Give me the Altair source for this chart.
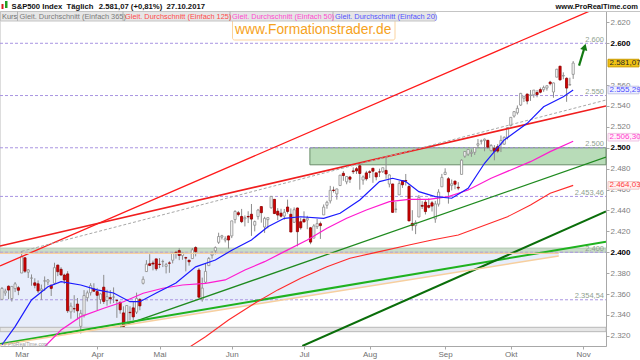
import altair as alt
import pandas as pd

# ---------------- price data (daily candles, 21.02.2017 - 27.10.2017) ----------------
FIRST_IDX = -6  # index of first candle; 0 = 01.03.2017 (trading-day axis)
open_ = [2354.91, 2361.11, 2367.50, 2355.73, 2365.23, 2366.08,
         2380.13, 2394.75, 2380.92, 2375.23, 2370.74, 2369.81, 2363.49, 2372.52, 2371.56, 2368.55, 2370.34, 2387.71, 2383.71, 2378.24, 2379.32, 2343.00, 2345.97, 2350.42, 2329.11, 2339.79, 2356.54, 2361.31, 2364.82,
         2362.34, 2354.76, 2366.59, 2353.79, 2356.59, 2357.16, 2353.92, 2352.15, 2341.98, 2332.62, 2342.53, 2346.79, 2342.69, 2354.74, 2370.33, 2381.51, 2388.98, 2389.70, 2393.68,
         2388.50, 2391.05, 2386.50, 2389.79, 2392.37, 2399.94, 2401.58, 2396.79, 2394.84, 2392.44, 2393.98, 2404.55, 2382.95, 2354.69, 2371.37, 2387.21, 2397.04, 2401.41, 2409.54, 2414.50, 2411.67, 2415.63,
         2415.65, 2431.28, 2437.83, 2434.27, 2432.03, 2434.27, 2436.39, 2425.88, 2434.15, 2443.75, 2424.14, 2431.24, 2442.55, 2450.66, 2439.31, 2437.40, 2434.65, 2443.32, 2436.34, 2428.70, 2442.38, 2429.20,
         2431.39, 2430.78, 2423.44, 2413.52, 2424.51, 2427.35, 2435.75, 2444.99, 2449.16, 2459.50, 2455.88, 2463.85, 2475.56, 2467.40, 2472.04, 2477.88, 2479.97, 2482.76, 2469.12, 2475.94,
         2477.10, 2480.38, 2476.03, 2476.88, 2477.14, 2478.35, 2465.35, 2465.38, 2441.04, 2454.96, 2468.66, 2468.63, 2462.95, 2427.64, 2425.50, 2433.75, 2444.88, 2447.91, 2444.72, 2447.35, 2431.94, 2446.06, 2462.65,
         2474.42, 2470.35, 2463.83, 2468.06, 2462.25, 2474.52, 2491.94, 2493.89, 2494.56, 2495.67, 2502.51, 2506.29, 2506.84, 2507.16, 2497.26, 2499.39, 2501.04, 2503.30, 2503.41, 2509.96,
         2521.20, 2530.34, 2533.48, 2540.86, 2547.44, 2551.39, 2549.99, 2550.62, 2552.88, 2555.66, 2555.57, 2557.17, 2562.87, 2553.39, 2567.56, 2578.08, 2568.66, 2566.52, 2560.08, 2570.26]
high_ = [2366.71, 2365.13, 2368.26, 2367.34, 2371.54, 2367.79,
         2400.98, 2394.75, 2383.89, 2378.80, 2375.12, 2373.09, 2369.08, 2376.86, 2374.42, 2368.55, 2390.01, 2388.10, 2385.71, 2379.55, 2381.93, 2351.81, 2358.92, 2356.22, 2344.90, 2363.78, 2363.36, 2370.42, 2370.35,
         2365.87, 2360.53, 2378.36, 2364.16, 2363.76, 2366.37, 2355.22, 2352.72, 2348.26, 2349.14, 2348.35, 2352.63, 2361.37, 2356.18, 2376.98, 2392.48, 2398.16, 2392.10, 2393.68,
         2394.49, 2392.93, 2389.82, 2391.43, 2399.29, 2401.36, 2403.87, 2399.74, 2395.72, 2392.44, 2404.05, 2405.77, 2384.87, 2375.74, 2389.06, 2395.46, 2400.85, 2405.58, 2418.71, 2416.68, 2415.26, 2415.99,
         2430.06, 2440.23, 2439.55, 2441.49, 2435.28, 2439.27, 2446.20, 2430.38, 2441.49, 2443.75, 2433.95, 2433.15, 2453.82, 2450.66, 2442.23, 2441.62, 2441.40, 2450.42, 2441.99, 2442.97, 2442.73, 2432.71,
         2439.17, 2434.90, 2424.28, 2426.92, 2432.00, 2429.30, 2445.76, 2449.32, 2463.54, 2462.82, 2460.92, 2473.83, 2477.62, 2472.54, 2473.10, 2481.24, 2481.69, 2484.04, 2473.53, 2477.96,
         2478.51, 2480.38, 2476.03, 2480.00, 2480.95, 2490.87, 2474.41, 2465.38, 2448.09, 2468.22, 2468.90, 2474.93, 2465.02, 2440.27, 2430.58, 2454.77, 2448.91, 2450.38, 2451.66, 2449.12, 2449.19, 2460.31, 2475.01,
         2480.38, 2471.97, 2469.64, 2468.62, 2467.11, 2488.95, 2496.77, 2498.37, 2498.43, 2500.23, 2508.32, 2507.84, 2508.85, 2507.16, 2503.47, 2502.54, 2503.51, 2511.75, 2510.81, 2519.44,
         2529.23, 2535.13, 2540.53, 2552.51, 2549.41, 2551.82, 2555.23, 2555.24, 2555.33, 2557.65, 2559.47, 2559.71, 2564.11, 2562.36, 2575.44, 2578.29, 2572.18, 2567.40, 2567.07, 2582.98]
low_ = [2354.91, 2358.34, 2355.09, 2352.87, 2361.87, 2358.96,
        2380.13, 2380.17, 2375.39, 2367.98, 2365.51, 2361.01, 2354.54, 2363.04, 2368.52, 2358.18, 2368.94, 2377.18, 2377.64, 2369.66, 2341.90, 2336.45, 2342.13, 2335.74, 2322.25, 2337.63, 2352.94, 2358.58, 2362.60,
        2344.73, 2350.72, 2350.52, 2348.90, 2350.74, 2351.50, 2337.25, 2341.18, 2328.95, 2332.51, 2334.54, 2335.05, 2340.91, 2344.51, 2369.19, 2381.15, 2386.78, 2382.68, 2382.36,
        2384.83, 2385.82, 2379.75, 2380.35, 2389.38, 2393.92, 2392.44, 2392.79, 2381.74, 2387.19, 2393.94, 2396.05, 2356.21, 2352.72, 2370.43, 2386.92, 2393.88, 2397.99, 2408.01, 2412.20, 2409.43, 2403.59,
        2413.54, 2427.71, 2434.32, 2427.95, 2424.75, 2427.94, 2415.70, 2419.97, 2431.28, 2428.34, 2418.53, 2422.88, 2441.79, 2436.60, 2430.74, 2433.27, 2431.11, 2437.03, 2419.38, 2428.02, 2405.70, 2421.65,
        2428.69, 2422.05, 2407.70, 2413.52, 2422.27, 2412.79, 2435.75, 2441.69, 2446.69, 2457.16, 2450.34, 2463.85, 2468.43, 2465.06, 2466.32, 2474.91, 2474.94, 2459.93, 2464.66, 2468.53,
        2471.14, 2466.48, 2468.85, 2472.08, 2475.88, 2470.32, 2462.08, 2437.75, 2437.85, 2454.96, 2461.61, 2463.86, 2430.01, 2420.69, 2417.35, 2433.67, 2441.42, 2436.19, 2441.90, 2439.03, 2428.20, 2443.77, 2462.65,
        2473.85, 2446.55, 2459.20, 2460.29, 2459.40, 2474.52, 2490.37, 2492.14, 2491.35, 2493.16, 2499.92, 2503.19, 2496.67, 2499.00, 2496.54, 2488.03, 2495.12, 2495.91, 2502.93, 2507.99,
        2520.40, 2528.85, 2531.80, 2540.02, 2543.79, 2541.60, 2544.86, 2547.95, 2548.31, 2552.09, 2553.59, 2554.69, 2559.67, 2547.92, 2567.56, 2564.33, 2565.58, 2544.00, 2559.80, 2565.94]
close_ = [2365.38, 2362.82, 2363.81, 2367.34, 2369.75, 2363.64,
          2395.96, 2381.92, 2383.12, 2375.31, 2368.39, 2362.98, 2364.87, 2372.60, 2373.47, 2365.45, 2385.26, 2381.38, 2378.25, 2373.47, 2344.02, 2348.45, 2345.96, 2343.98, 2341.59, 2358.57, 2361.13, 2368.06, 2362.72,
          2358.84, 2360.16, 2352.95, 2357.49, 2355.54, 2357.16, 2353.78, 2344.93, 2328.95, 2349.01, 2342.19, 2338.17, 2355.84, 2348.69, 2374.15, 2388.61, 2387.45, 2388.77, 2384.20,
          2388.33, 2391.17, 2388.13, 2389.52, 2399.29, 2399.38, 2396.92, 2399.63, 2394.44, 2390.90, 2402.32, 2400.67, 2357.03, 2365.72, 2381.73, 2394.02, 2398.42, 2404.39, 2415.07, 2415.82, 2412.91, 2411.80,
          2430.06, 2439.07, 2436.10, 2429.33, 2433.14, 2433.79, 2431.77, 2429.39, 2440.35, 2437.92, 2432.46, 2433.15, 2453.46, 2437.03, 2435.61, 2434.50, 2438.30, 2439.07, 2419.38, 2440.69, 2419.70, 2423.41,
          2429.01, 2432.54, 2409.75, 2425.18, 2427.43, 2425.53, 2443.25, 2447.83, 2459.27, 2459.14, 2460.61, 2473.83, 2473.45, 2472.54, 2469.91, 2477.13, 2477.83, 2475.42, 2472.10, 2470.30,
          2476.35, 2477.57, 2472.16, 2476.83, 2480.91, 2474.92, 2474.02, 2438.21, 2441.32, 2465.84, 2464.61, 2468.11, 2430.01, 2425.55, 2428.37, 2452.51, 2444.04, 2438.97, 2443.05, 2444.24, 2446.30, 2457.59, 2471.65,
          2476.55, 2457.85, 2465.54, 2465.10, 2461.43, 2488.11, 2496.48, 2498.37, 2495.62, 2500.23, 2503.87, 2506.65, 2508.24, 2500.60, 2502.22, 2496.66, 2496.84, 2507.04, 2510.06, 2519.36,
          2529.12, 2534.58, 2537.74, 2552.07, 2549.33, 2544.73, 2550.64, 2555.24, 2550.93, 2553.17, 2557.64, 2559.36, 2561.26, 2562.10, 2575.21, 2564.98, 2569.13, 2557.15, 2560.40, 2581.07]

# month ticks (trading-day index of first trading day of month)
month_idx = [0, 23, 42, 64, 86, 106, 129, 149, 171]
month_lab = ["Mar", "Apr", "Mai", "Jun", "Jul", "Aug", "Sep", "Okt", "Nov"]

# price axis ticks (2.580 sits under the last-price tag)
y_ticks = [2320, 2340, 2360, 2380, 2400, 2420, 2440, 2460, 2480, 2500, 2520, 2540, 2560, 2600, 2620]

# moving averages
ma20_i = [-6, -2, 3, 8, 12, 18, 23, 28, 33, 36, 41, 47, 53, 59, 64, 70, 75, 80, 85, 92, 97, 103, 109, 113, 117, 121, 126, 131, 136, 141, 147, 154, 159, 165, 168]
ma20_v = [2311.5, 2328.8, 2354.4, 2367.0, 2371.9, 2368.7, 2364.0, 2361.0, 2352.7, 2352.7, 2361.0, 2370.6, 2386.0, 2392.6, 2402.0, 2411.8, 2424.5, 2432.5, 2434.0, 2432.5, 2437.3, 2450.0, 2467.6, 2470.8, 2467.6, 2458.0, 2453.2, 2451.7, 2461.2, 2485.2, 2507.5, 2523.4, 2539.3, 2548.9, 2555.29]
ma50_i = [7, 12, 18, 25, 31, 37, 43, 49, 56, 62, 68, 74, 80, 87, 93, 99, 105, 112, 118, 124, 130, 136, 143, 149, 155, 161, 168]
ma50_v = [2309.7, 2325.6, 2338.4, 2346.4, 2352.7, 2360.8, 2365.6, 2368.7, 2370.3, 2373.5, 2383.0, 2391.0, 2400.6, 2411.8, 2423.0, 2432.5, 2440.5, 2448.4, 2450.7, 2450.7, 2453.2, 2459.6, 2470.8, 2478.8, 2486.7, 2496.3, 2506.3]
ma125_i = [51, 56, 63, 71, 78, 85, 93, 100, 109, 118, 125, 133, 140, 148, 155, 161, 168]
ma125_v = [2309.0, 2319.2, 2335.2, 2351.2, 2364.0, 2375.1, 2386.2, 2394.3, 2400.6, 2407.0, 2411.8, 2416.6, 2424.6, 2434.0, 2445.3, 2456.5, 2464.03]

# horizontal dashed levels
level_v = [2600, 2550, 2500, 2453.46, 2400, 2354.54]
level_lab = ["2.600", "2.550", "2.500", "2.453,46", "2.400", "2.354,54"]

# drawn trend lines: start/end (index, price)
trend_name = ["upper_red", "lower_red", "gray_dash", "mid_green", "bright_green", "dark_green", "tan_slope", "tan_flat"]
trend_i0 = [-6.6, -6.6, 0.0, 30.0, -6.6, 85.5, -6.6, -6.6]
trend_v0 = [2386.9, 2406.0, 2400.9, 2328.8, 2312.3, 2310.3, 2311.3, 2399.0]
trend_i1 = [178.0, 178.0, 178.0, 178.0, 178.0, 178.0, 163.6, 163.6]
trend_v1 = [2637.6, 2540.0, 2545.7, 2491.0, 2410.0, 2439.0, 2396.5, 2399.0]

# zones (index range, price range)
zone_i0 = [-6.6, -6.6, 87.8]
zone_i1 = [178.0, 178.0, 178.0]
zone_v0 = [2400.0, 2324.0, 2483.7]
zone_v1 = [2404.0, 2328.2, 2500.0]

# fill triangle
tri_i = [-6.6, 163.6]
tri_top = [2399.0, 2399.0]
tri_bot = [2311.3, 2396.5]

# price tags on the right
tag_v = [2581.07, 2555.29, 2506.30, 2464.03]
tag_lab = ["2.581,07", "2.555,29", "2.506,30", "2.464,03"]

# arrow (index, price)
arrow_i = [169.8, 171.5]
arrow_v = [2578.6, 2596.5]

# ---------------- styling ----------------
W, H = 606, 335
XD = [-6.6, 178.0]
YD = [2310.3, 2630.9]
FONT = "Liberation Sans"
PX_PER_PT = H / (YD[1] - YD[0])

xs = alt.Scale(domain=XD, nice=False, zero=False)
ys = alt.Scale(domain=YD, nice=False, zero=False)

lab_expr = ("[" + ",".join("'%s'" % m for m in month_lab) + "][indexof(["
            + ",".join(str(v) for v in month_idx) + "], datum.value)]")

x_axis = alt.Axis(values=month_idx, labelExpr=lab_expr, title=None, grid=False,
                  domainColor="#a8a8a8", tickColor="#a8a8a8", tickSize=3,
                  labelColor="#707070", labelFontSize=8, labelPadding=1, labelFont=FONT,
                  labelOverlap=False)
y_axis = alt.Axis(orient="right", values=y_ticks,
                  labelExpr="replace(format(datum.value, ',d'), ',', '.')",
                  title=None, grid=False, domainColor="#a8a8a8", tickColor="#a8a8a8",
                  tickSize=3, labelFontSize=8, labelPadding=1, labelFont=FONT,
                  labelOverlap=False,
                  labelColor={"condition": {"test": "datum.value % 100 === 0", "value": "#000000"}, "value": "#808080"},
                  labelFontWeight={"condition": {"test": "datum.value % 100 === 0", "value": "bold"}, "value": "normal"})


def X(f):
    return alt.X(f, scale=xs, axis=x_axis)


def Y(f):
    return alt.Y(f, scale=ys, axis=y_axis)


layers = []

# fill triangle
tri_df = pd.DataFrame({"i": tri_i, "top": tri_top, "bot": tri_bot})
layers.append(alt.Chart(tri_df).mark_area(color="#e7edfb").encode(
    x=X("i:Q"), y=Y("top:Q"), y2=alt.Y2("bot:Q")))

# zones
zone_fill = ["#c9dcc9", "#e6e6e6", "#b8dcb8"]
zone_stroke = ["#b4c8b4", "#b8b8b8", "#6a8c6a"]
zone_df = pd.DataFrame({"i0": zone_i0, "i1": zone_i1, "v0": zone_v0, "v1": zone_v1,
                        "f": zone_fill, "s": zone_stroke})
layers.append(alt.Chart(zone_df).mark_rect(strokeWidth=1).encode(
    x=X("i0:Q"), x2=alt.X2("i1:Q"), y=Y("v0:Q"), y2=alt.Y2("v1:Q"),
    fill=alt.Fill("f:N", scale=None), stroke=alt.Stroke("s:N", scale=None)))

# dashed levels
lev_df = pd.DataFrame({"v": level_v, "lab": level_lab})
layers.append(alt.Chart(lev_df).mark_rule(strokeDash=[3, 2], color="#a995e2", strokeWidth=1).encode(
    y=Y("v:Q"), x=alt.value(0), x2=alt.value(W)))
layers.append(alt.Chart(lev_df).mark_text(align="right", baseline="alphabetic", dy=-1.5,
                                          fontSize=7.5, font=FONT, color="#8f9f8f").encode(
    x=alt.value(604), y=Y("v:Q"), text="lab:N"))

# candles
n = len(close_)
candles = pd.DataFrame({"i": list(range(FIRST_IDX, FIRST_IDX + n)),
                        "o": open_, "h": high_, "l": low_, "c": close_})
layers.append(alt.Chart(candles).mark_rule(color="#8c8c8c", strokeWidth=1).encode(
    x=X("i:Q"), y=Y("l:Q"), y2=alt.Y2("h:Q")))
up = "datum.c >= datum.o"
layers.append(alt.Chart(candles).transform_calculate(
    x0="datum.i - 0.33", x1="datum.i + 0.33").mark_rect(strokeWidth=0.8).encode(
    x=X("x0:Q"), x2=alt.X2("x1:Q"), y=Y("o:Q"), y2=alt.Y2("c:Q"),
    fill=alt.condition(up, alt.value("#ffffff"), alt.value("#d40000")),
    stroke=alt.condition(up, alt.value("#8c8c8c"), alt.value("#8b0000"))))

# trend lines
trend_style = {
    "upper_red": ("#ff1a1a", 1.3, None),
    "lower_red": ("#f01e1e", 1.7, None),
    "gray_dash": ("#a8a8a8", 1.0, [3, 2]),
    "mid_green": ("#1f8a1f", 1.3, None),
    "bright_green": ("#1fb21f", 2.0, None),
    "dark_green": ("#0a6e0a", 2.0, None),
    "tan_slope": ("#f7cf9e", 1.5, None),
    "tan_flat": ("#f7cf9e", 1.3, None),
}
for k, name in enumerate(trend_name):
    d = pd.DataFrame({"i": [trend_i0[k], trend_i1[k]], "v": [trend_v0[k], trend_v1[k]]})
    col, wid, dash = trend_style[name]
    kw = dict(color=col, strokeWidth=wid, clip=True)
    if dash:
        kw["strokeDash"] = dash
    layers.append(alt.Chart(d).mark_line(**kw).encode(x=X("i:Q"), y=Y("v:Q")))

# moving averages
for ii, vv, col, wid in [(ma125_i, ma125_v, "#ff2a2a", 1.1),
                         (ma50_i, ma50_v, "#ff1ad0", 1.2),
                         (ma20_i, ma20_v, "#1a1aff", 1.2)]:
    d = pd.DataFrame({"i": ii, "v": vv})
    layers.append(alt.Chart(d).mark_line(color=col, strokeWidth=wid, clip=True).encode(
        x=X("i:Q"), y=Y("v:Q")))

# arrow
arr_df = pd.DataFrame({"i": arrow_i, "v": arrow_v})
layers.append(alt.Chart(arr_df).mark_line(color="#137a13", strokeWidth=2.2).encode(
    x=X("i:Q"), y=Y("v:Q")))
layers.append(alt.Chart(arr_df.tail(1)).mark_point(shape="triangle-up", filled=True, size=55,
                                                   angle=17, color="#137a13", opacity=1).encode(
    x=X("i:Q"), y=Y("v:Q")))

# right-side price tags (the 50-day tag is nudged up 4 px, as in the platform)
tag_shift_px = [0, 0, 4, 0]
tag_df = pd.DataFrame({"v": tag_v, "lab": tag_lab,
                       "sh": [s / PX_PER_PT for s in tag_shift_px],
                       "f": ["#f2c414", "#eef0ff", "#fff0fb", "#fff0f0"],
                       "s": ["#c99a00", "#c4c4e4", "#f0c4e4", "#f0c4c4"],
                       "t": ["#2a2a2a", "#4a4aff", "#ff3ccc", "#ff3c3c"]})
half = 3.8 / PX_PER_PT
tags = alt.Chart(tag_df).transform_calculate(
    vp="datum.v + datum.sh",
    y0="datum.v + datum.sh - %f" % half,
    y1="datum.v + datum.sh + %f" % half)
layers.append(tags.mark_rect(strokeWidth=1).encode(
    x=alt.value(608), x2=alt.value(639), y=Y("y0:Q"), y2=alt.Y2("y1:Q"),
    fill=alt.Fill("f:N", scale=None), stroke=alt.Stroke("s:N", scale=None)))
layers.append(tags.mark_text(align="left", baseline="middle", fontSize=8, font=FONT).encode(
    x=alt.value(609.5), y=Y("vp:Q"), text="lab:N", color=alt.Color("t:N", scale=None)))

# tiny copyright
layers.append(alt.Chart(pd.DataFrame({"t": ["© ProRealTime.com"]})).mark_text(
    align="left", baseline="middle", fontSize=5, font=FONT, color="#9a9a9a").encode(
    x=alt.value(3), y=alt.value(333), text="t:N"))

# watermark box + text
layers.append(alt.Chart(pd.DataFrame({"a": [1]})).mark_rect(
    fill="#ffffff", stroke="#fbd3a0", strokeWidth=1, cornerRadius=2).encode(
    x=alt.value(232.5), x2=alt.value(395), y=alt.value(7.5), y2=alt.value(29)))
layers.append(alt.Chart(pd.DataFrame({"t": ["www.Formationstrader.de"]})).mark_text(
    align="left", baseline="alphabetic", fontSize=13.8, font=FONT, color="#f6a21c").encode(
    x=alt.value(235), y=alt.value(23), text="t:N"))

# header line + legend strip
layers.append(alt.Chart(pd.DataFrame({"a": [1]})).mark_rule(color="#c4c4c4", strokeWidth=1).encode(
    x=alt.value(0), x2=alt.value(640), y=alt.value(0.5)))
layers.append(alt.Chart(pd.DataFrame({"a": [1]})).mark_rect(
    fill="#e6e6e6", stroke="#c4c4c4", strokeWidth=1).encode(
    x=alt.value(0.5), x2=alt.value(435), y=alt.value(0.5), y2=alt.value(10)))
sep_df = pd.DataFrame({"x": [17.5, 123, 230, 333]})
layers.append(alt.Chart(sep_df).mark_rule(color="#b4b4b4", strokeWidth=1).encode(
    x=alt.X("x:Q", scale=None, axis=None), y=alt.value(0.5), y2=alt.value(10)))

leg_text = ["Kurs", "Gleit. Durchschnitt (Einfach 365)", "Gleit. Durchschnitt (Einfach 125)",
            "Gleit. Durchschnitt (Einfach 50)", "Gleit. Durchschnitt (Einfach 20)"]
leg_df = pd.DataFrame({"t": leg_text, "x": [2, 19.5, 125, 232, 335],
                       "c": ["#707070", "#7a7a7a", "#ff4a4a", "#ff4ad0", "#5252ff"]})
layers.append(alt.Chart(leg_df).mark_text(align="left", baseline="alphabetic", fontSize=7.4, font=FONT).encode(
    x=alt.X("x:Q", scale=None, axis=None), y=alt.value(8.3), text="t:N",
    color=alt.Color("c:N", scale=None)))

# title row
title_df = pd.DataFrame({"t": ["S&P500 Index", "Täglich", "2.581,07 (+0,81%)", "27.10.2017"],
                         "x": [11.5, 66.5, 98.8, 166.5]})
layers.append(alt.Chart(title_df).mark_text(align="left", baseline="alphabetic", fontSize=7.7,
                                            fontWeight="bold", font=FONT, color="#111111").encode(
    x=alt.X("x:Q", scale=None, axis=None), y=alt.value(-2.3), text="t:N"))
layers.append(alt.Chart(pd.DataFrame({"t": ["www.ProRealTime.com"]})).mark_text(
    align="right", baseline="alphabetic", fontSize=7.5, fontWeight="bold", font=FONT, color="#111111").encode(
    x=alt.value(638), y=alt.value(-2.3), text="t:N"))
icon_df = pd.DataFrame({"x0": [1.5, 5.0], "x1": [3.5, 7.5], "y0": [-7.0, -10.0], "y1": [-2.0, -3.0],
                        "f": ["#d42020", "#22a022"]})
layers.append(alt.Chart(icon_df).mark_rect().encode(
    x=alt.X("x0:Q", scale=None, axis=None), x2="x1:Q",
    y=alt.Y("y0:Q", scale=None, axis=None), y2="y1:Q",
    fill=alt.Fill("f:N", scale=None)))

chart = alt.layer(*layers).properties(
    width=W, height=H,
    autosize=alt.AutoSizeParams(type="none"),
    padding={"left": 0, "top": 11, "right": 34, "bottom": 14},
    background="#ffffff",
).configure_view(stroke=None).configure(font=FONT)

chart.save("out.html", embed_options={"renderer": "svg", "actions": False})
